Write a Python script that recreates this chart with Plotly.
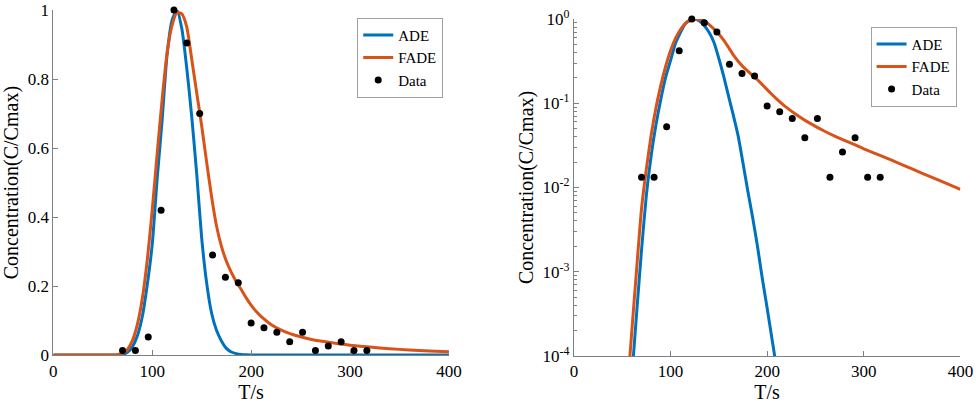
import plotly.graph_objects as go
from plotly.subplots import make_subplots

# values
t_data = [70, 83, 96, 109, 122, 135, 148, 161, 174, 187, 200, 213, 226, 239, 252, 265, 278, 291, 304, 317]
c_data = [0.0132, 0.0132, 0.0527, 0.42, 1.0, 0.905, 0.70, 0.29, 0.226, 0.21, 0.093, 0.079, 0.066,
          0.039, 0.066, 0.0132, 0.0264, 0.039, 0.0132, 0.0132]

t_ade = [0, 40, 50, 55, 60, 65, 70, 75, 80, 85, 90, 95, 100, 105, 110, 115, 120, 125, 130, 135, 140,
         145, 150, 155, 160, 165, 170, 175, 180, 185, 190, 195, 200, 205, 210, 220, 250, 400]
c_ade = [0, 0, 1e-6, 1e-5, 5.6e-5, 3.3e-4, 1.8e-3, 8.1e-3, 0.024, 0.056, 0.112, 0.204, 0.32, 0.51,
         0.68, 0.87, 0.97, 1.0, 0.945, 0.83, 0.69, 0.525, 0.34, 0.21, 0.122, 0.072, 0.041, 0.0195,
         9.1e-3, 4.4e-3, 2.0e-3, 8.3e-4, 3.7e-4, 1.6e-4, 6.8e-5, 1e-5, 0, 0]

t_fade = [0, 40, 50, 55, 60, 65, 70, 75, 80, 85, 90, 95, 100, 105, 110, 115, 120, 125, 130, 135, 140,
          145, 150, 155, 160, 165, 170, 175, 180, 185, 190, 195, 200, 205, 210, 220, 230, 240, 250,
          260, 270, 280, 290, 300, 320, 340, 360, 380, 400]
c_fade = [0, 0, 4e-6, 3.5e-5, 2.0e-4, 1.1e-3, 5.6e-3, 0.0166, 0.042, 0.089, 0.164, 0.275, 0.42, 0.583,
          0.74, 0.875, 0.955, 0.993, 0.989, 0.95, 0.857, 0.76, 0.665, 0.56, 0.46, 0.375, 0.315, 0.272,
          0.24, 0.213, 0.19, 0.166, 0.145, 0.127, 0.112, 0.0891, 0.0733, 0.0617, 0.0531, 0.0462,
          0.0407, 0.0363, 0.0324, 0.0288, 0.0232, 0.0186, 0.0148, 0.0119, 0.0095]

x_ticks = [0, 100, 200, 300, 400]
y_ticks_lin = [0, 0.2, 0.4, 0.6, 0.8, 1]
y_ticks_log = [1e-4, 1e-3, 1e-2, 1e-1, 1]
y_text_log = ["10<sup>-4</sup>", "10<sup>-3</sup>", "10<sup>-2</sup>", "10<sup>-1</sup>", "10<sup>0</sup>"]

blue = "#0072BD"
orange = "#D95319"
font = "Liberation Serif"

fig = make_subplots(rows=1, cols=2)

for col, leg in [(1, "legend"), (2, "legend2")]:
    fig.add_trace(go.Scatter(x=t_ade, y=c_ade, mode="lines", name="ADE", legend=leg,
                             line=dict(color=blue, width=3, shape="spline", smoothing=0.6)), row=1, col=col)
    fig.add_trace(go.Scatter(x=t_fade, y=c_fade, mode="lines", name="FADE", legend=leg,
                             line=dict(color=orange, width=3, shape="spline", smoothing=0.6)), row=1, col=col)
    fig.add_trace(go.Scatter(x=t_data, y=c_data, mode="markers", name="Data", legend=leg, cliponaxis=False,
                             marker=dict(color="black", size=7)), row=1, col=col)

axis_style = dict(showgrid=False, zeroline=False, showline=True, linecolor="#808080", linewidth=1,
                  automargin=False, ticks="inside", ticklen=5, tickcolor="#808080",
                  tickfont=dict(family=font, size=17, color="black"))

fig.update_xaxes(axis_style)
fig.update_yaxes(axis_style)

legend_style = dict(xanchor="left", yanchor="top", bgcolor="white", bordercolor="#a0a0a0", borderwidth=1,
                    font=dict(family=font, size=15), tracegroupgap=0, itemwidth=30)

fig.update_layout(
    width=976, height=404,
    margin=dict(l=0, r=0, t=0, b=0),
    paper_bgcolor="white", plot_bgcolor="white",
    font=dict(family=font, size=17, color="black"),
    xaxis=dict(domain=[0.0546, 0.46], range=[0, 400], tickvals=x_ticks,
               title=dict(text="T/s", standoff=2)),
    yaxis=dict(domain=[0.121, 0.975], range=[0, 1], tickvals=y_ticks_lin,
               ticktext=["0", "0.2", "0.4", "0.6", "0.8", "1"],
               title=dict(text="Concentration(C/Cmax)", standoff=8)),
    xaxis2=dict(domain=[0.588, 0.984], range=[0, 400], tickvals=x_ticks,
                title=dict(text="T/s", standoff=2)),
    yaxis2=dict(domain=[0.119, 0.953], type="log", range=[-4, 0], tickvals=y_ticks_log, ticktext=y_text_log,
                minor=dict(ticks="inside", ticklen=3, tickcolor="#808080", dtick="D1"),
                title=dict(text="Concentration(C/Cmax)", standoff=3)),
    legend=dict(x=0.366, y=0.956, **legend_style),
    legend2=dict(x=0.892, y=0.934, **legend_style),
)

# the page body has a default 8px margin; drop it so the figure fills the window
fig.write_html("out.html", config={"displayModeBar": False},
               post_script="document.body.style.margin = '0';")
